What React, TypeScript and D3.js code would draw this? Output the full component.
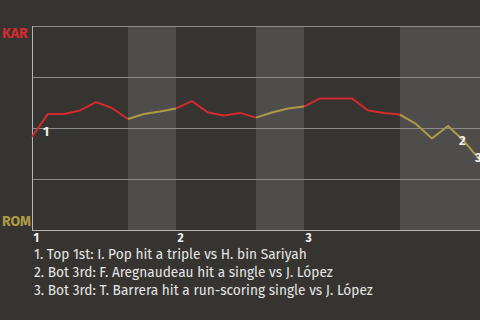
import React from "react";
import * as d3 from "d3";

const teams = ["KAR", "ROM"];
// KAR win probability (%) after each plate appearance
const winProb = [45.7, 56.9, 56.9, 58.6, 62.7, 59.8, 54.4, 56.9, 58.1, 59.6, 63.2, 57.6, 56.1, 57.4, 55.1, 57.6, 59.6, 60.5, 64.5, 64.5, 64.5, 58.6, 57.4, 56.6, 52.0, 44.9, 51.0, 43.6, 34.3];
// plate appearances per half inning
const halfInningPAs = [6, 3, 5, 3, 6, 5];
const inningLabels = ["1", "2", "3"];
const annotationIdx = [1, 27, 28];
const annotations = [
  "1. Top 1st: I. Pop hit a triple vs H. bin Sariyah",
  "2. Bot 3rd: F. Aregnaudeau hit a single vs J. López",
  "3. Bot 3rd: T. Barrera hit a run-scoring single vs J. López",
];
const gridTicks = [0, 25, 50, 75, 100];

const W = 480, H = 320;
const BG = "#363430";
const BAND = "#4e4d4b";
const RED = "#d42a2f";
const OLIVE = "#ad9a45";
const FONT = "'Fira Sans', Lato, 'Open Sans', sans-serif";

export default function App() {
  const left = 32, right = 480, top = 26, bottom = 230;
  const x = d3.scaleLinear().domain([0, 28]).range([left, right]);
  const y = d3.scaleLinear().domain([0, 100]).range([bottom, top]);

  const starts: number[] = [0];
  halfInningPAs.forEach((n, i) => starts.push(starts[i] + n));

  const line = d3.line<[number, number]>().x(d => x(d[0])).y(d => y(d[1]));

  const segs = halfInningPAs.map((n, h) => {
    const s = starts[h], e = starts[h + 1];
    const pts: [number, number][] = [];
    for (let i = s; i <= e; i++) pts.push([i, winProb[i]]);
    return { d: line(pts) || "", color: h % 2 === 0 ? RED : OLIVE };
  });

  return (
    <svg width={W} height={H} style={{ position: "fixed", left: 0, top: 0, display: "block" }}>
      <rect width={W} height={H} fill={BG} />
      {halfInningPAs.map((n, h) =>
        h % 2 === 1 ? (
          <rect key={h} x={x(starts[h])} y={top} width={x(starts[h + 1]) - x(starts[h])} height={bottom - top} fill={BAND} />
        ) : null
      )}
      {gridTicks.map(t => (
        <line key={t} x1={left} x2={right} y1={y(t) + 0.5} y2={y(t) + 0.5} stroke={t === 0 ? "#b5b5b5" : "#8c8c8a"} strokeWidth={1} />
      ))}
      <line x1={left + 0.5} x2={left + 0.5} y1={top} y2={bottom + 1} stroke="#b5b5b5" strokeWidth={1} />
      {segs.map((s, i) => (
        <path key={i} d={s.d} fill="none" stroke={s.color} strokeWidth={2} strokeLinejoin="round" />
      ))}
      {annotationIdx.map((idx, k) => {
        const mx = (x(idx - 1) + x(idx)) / 2;
        const my = (y(winProb[idx - 1]) + y(winProb[idx])) / 2;
        return (
          <text key={k} x={mx + 3} y={my + 11} fill="#f2f2f2" fontFamily={FONT} fontWeight="bold" fontSize={13}>
            {k + 1}
          </text>
        );
      })}
      <text x={2} y={38} fill={RED} fontFamily={FONT} fontWeight="bold" fontSize={14}>{teams[0]}</text>
      <text x={2} y={226} fill={OLIVE} fontFamily={FONT} fontWeight="bold" fontSize={14}>{teams[1]}</text>
      {inningLabels.map((l, i) => (
        <text key={l} x={x(starts[i * 2]) + 1.5} y={242} fill="#f2f2f2" fontFamily={FONT} fontWeight="bold" fontSize={12}>{l}</text>
      ))}
      {annotations.map((a, i) => (
        <text key={i} x={34} y={259 + i * 18} fill="#e6e6e6" fontFamily={FONT} fontSize={13.7}>{a}</text>
      ))}
    </svg>
  );
}
